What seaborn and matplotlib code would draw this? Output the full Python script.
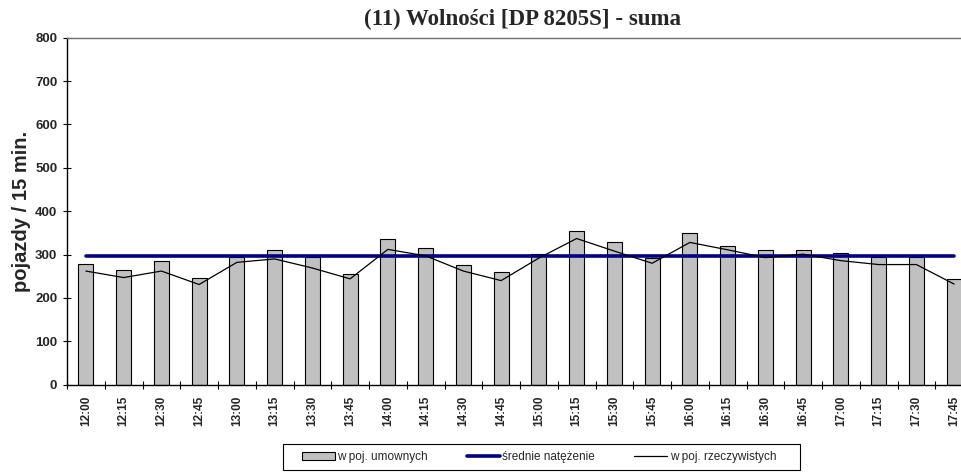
import matplotlib
matplotlib.use("Agg")
import matplotlib.pyplot as plt
import seaborn as sns
import numpy as np
from matplotlib.patches import Patch, Rectangle
from matplotlib.lines import Line2D
from matplotlib.ticker import FixedLocator

times = ["12:00", "12:15", "12:30", "12:45", "13:00", "13:15", "13:30", "13:45",
         "14:00", "14:15", "14:30", "14:45", "15:00", "15:15", "15:30", "15:45",
         "16:00", "16:15", "16:30", "16:45", "17:00", "17:15", "17:30", "17:45"]
umowne = [278, 265, 285, 245, 295, 310, 295, 255, 335, 315, 275, 259,
          301, 354, 329, 292, 349, 319, 310, 310, 303, 295, 295, 244]
rzeczywiste = [262, 247, 262, 231, 282, 290, 269, 244, 312, 297, 262, 240,
               292, 337, 308, 280, 328, 311, 293, 301, 286, 277, 277, 232]
srednie = 296

title = "(11) Wolności [DP 8205S] - suma"
ylabel = "pojazdy / 15 min."
legend_labels = ["w poj. umownych", "średnie natężenie", "w poj. rzeczywistych"]
yticks = [0, 100, 200, 300, 400, 500, 600, 700, 800]

sns.set_theme(style="white")
plt.rcParams["font.family"] = ["Liberation Sans", "DejaVu Sans"]

W, H = 961, 472
fig = plt.figure(figsize=(W / 100, H / 100), dpi=100)
left, right, top, bottom = 67, 973, 37.7, 384.7
ax = fig.add_axes([left / W, 1 - bottom / H, (right - left) / W, (bottom - top) / H])

sns.barplot(x=times, y=umowne, ax=ax, color="#C0C0C0", width=0.4,
            edgecolor="black", linewidth=0.8, saturation=1)
sns.lineplot(x=times, y=[srednie] * len(times), ax=ax, color="#000080",
             linewidth=2.6, sort=False)
sns.lineplot(x=times, y=rzeczywiste, ax=ax, color="black", linewidth=0.9,
             sort=False)

ax.set_xlim(-0.5, len(times) - 0.5)
ax.set_ylim(0, 800)
ax.set_yticks(yticks)
ax.set_yticklabels([str(v) for v in yticks], fontsize=9.5, fontweight="bold")
ax.set_xticks(range(len(times)))
ax.set_xticklabels(times, rotation=90, fontsize=8.5, fontweight="bold")
ax.xaxis.set_minor_locator(FixedLocator(np.arange(-0.5, len(times), 1.0)))
ax.tick_params(axis="x", which="major", length=0, pad=8)
ax.tick_params(axis="x", which="minor", length=6, direction="inout", width=0.8, color="black", bottom=True)
ax.tick_params(axis="y", which="major", length=6, direction="inout", width=0.8, color="black", left=True, pad=4)
ax.set_xlabel("")
ax.set_ylabel(ylabel, fontsize=14.5, fontweight="bold", labelpad=3)

for s in ["left", "bottom"]:
    ax.spines[s].set_color("black")
    ax.spines[s].set_linewidth(1.0)
for s in ["top", "right"]:
    ax.spines[s].set_color("#707070")
    ax.spines[s].set_linewidth(1.0)

fig.text(522 / W, 1 - 19 / H, title, ha="center", va="center",
         fontsize=16.5, fontweight="bold", family="Liberation Serif")

handles = [Patch(facecolor="#C0C0C0", edgecolor="black", linewidth=0.8),
           Line2D([0], [0], color="#000080", linewidth=2.6),
           Line2D([0], [0], color="black", linewidth=0.9)]
leg = fig.legend(handles, legend_labels, loc="center left",
                 bbox_to_anchor=(302 / W, 1 - 457 / H), ncol=3, fontsize=8.5,
                 frameon=False, handlelength=2.8, handletextpad=0.2,
                 columnspacing=3.3, borderpad=0, borderaxespad=0)
fig.add_artist(Rectangle((283 / W, 1 - 470 / H), (800 - 283) / W, 26 / H,
                         transform=fig.transFigure, fill=False,
                         edgecolor="black", linewidth=0.8))

fig.savefig("out.png", dpi=100)
